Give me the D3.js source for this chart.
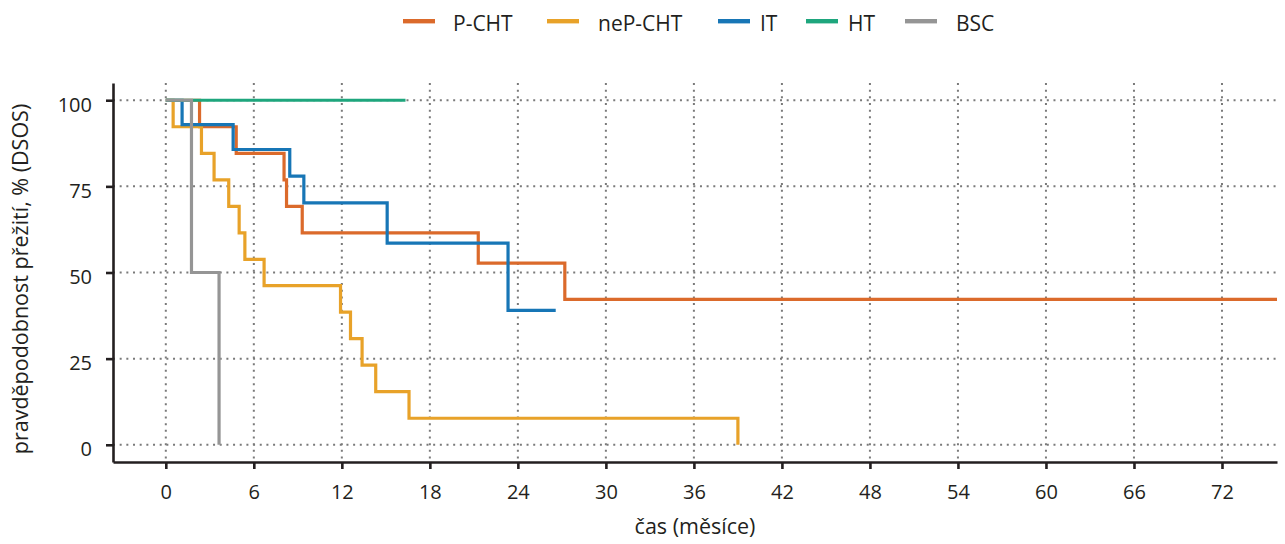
<!DOCTYPE html>
<html>
<head>
<meta charset="utf-8">
<script src="https://cdn.jsdelivr.net/npm/d3@7"></script>
<style>
  html, body { margin: 0; padding: 0; background: #fff; }
</style>
</head>
<body>
<div id="km"></div>
<script>
// Kaplan-Meier curves, DSOS by treatment group
const groups = ["P-CHT", "neP-CHT", "IT", "HT", "BSC"];
const groupColors = ["#db6a2b", "#e8a229", "#1776b6", "#1ea67d", "#959595"];

// time in months, survival in %
const pchtTime = [0, 2.3, 4.8, 8.06, 8.23, 9.3, 21.3, 27.2, 75.75];
const pchtSurv = [100, 92.3, 84.6, 76.9, 69.2, 61.5, 52.7, 42.2, 42.2];

const nepchtTime = [0, 0.5, 2.43, 3.29, 4.29, 5.0, 5.39, 6.7, 11.91, 12.59, 13.38, 14.31, 16.58, 39.0];
const nepchtSurv = [100, 92.3, 84.6, 76.9, 69.2, 61.5, 53.8, 46.2, 38.5, 30.8, 23.1, 15.4, 7.7, 0];

const itTime = [0, 1.11, 4.59, 8.45, 9.41, 15.09, 23.33, 26.58];
const itSurv = [100, 92.9, 85.7, 78.0, 70.2, 58.5, 39.0, 39.0];

const htTime = [0, 16.34];
const htSurv = [100, 100];

const bscTime = [0, 1.75, 3.63];
const bscSurv = [100, 50, 0];

const xTicks = [0, 6, 12, 18, 24, 30, 36, 42, 48, 54, 60, 66, 72];
const yTicks = [0, 25, 50, 75, 100];

(function() {
    const container = d3.select("#km");

    const W = 1285, H = 544;
    const margin = {top: 83, right: 8, bottom: 82, left: 113};
    const width = W - margin.left - margin.right;
    const height = H - margin.top - margin.bottom;
    const ink = "#231f20";
    const font = "'Open Sans', 'Noto Sans', sans-serif";

    const root = container.append("svg")
        .attr("width", W)
        .attr("height", H)
        .style("font-family", font);

    const svg = root.append("g")
        .attr("transform", `translate(${margin.left},${margin.top})`);

    const x = d3.scaleLinear().domain([-3.6, 75.75]).range([0, width]);
    const y = d3.scaleLinear().domain([-5, 105]).range([height, 0]);

    // dotted grid
    const grid = svg.append("g")
        .attr("stroke", "#7a7a7a")
        .attr("stroke-width", 2)
        .attr("stroke-dasharray", "2,4.67");

    grid.selectAll(".hg")
        .data(yTicks)
        .enter()
        .append("line")
        .attr("x1", 0)
        .attr("x2", width)
        .attr("y1", d => y(d))
        .attr("y2", d => y(d));

    grid.selectAll(".vg")
        .data(xTicks)
        .enter()
        .append("line")
        .attr("x1", d => x(d))
        .attr("x2", d => x(d))
        .attr("y1", 0)
        .attr("y2", height);

    // axes
    const xAxis = svg.append("g")
        .attr("transform", `translate(0,${height})`)
        .call(d3.axisBottom(x).tickValues(xTicks).tickSize(7).tickSizeOuter(0).tickPadding(16));

    const yAxis = svg.append("g")
        .call(d3.axisLeft(y).tickValues(yTicks).tickSize(7).tickSizeOuter(0).tickPadding(14));

    [xAxis, yAxis].forEach(ax => {
        ax.select(".domain").attr("stroke", ink).attr("stroke-width", 2.6);
        ax.selectAll(".tick line").attr("stroke", ink).attr("stroke-width", 2.6);
        ax.selectAll(".tick text")
            .attr("fill", ink)
            .style("font-family", font)
            .style("font-size", "20px");
    });
    yAxis.selectAll(".tick text").attr("dy", "0.55em");

    // curves
    const series = [
        {name: "P-CHT", time: pchtTime, surv: pchtSurv},
        {name: "neP-CHT", time: nepchtTime, surv: nepchtSurv},
        {name: "IT", time: itTime, surv: itSurv},
        {name: "HT", time: htTime, surv: htSurv},
        {name: "BSC", time: bscTime, surv: bscSurv}
    ];

    const color = d3.scaleOrdinal().domain(groups).range(groupColors);

    const line = d3.line()
        .x(d => x(d[0]))
        .y(d => y(d[1]))
        .curve(d3.curveStepAfter);

    svg.selectAll(".km")
        .data(series)
        .enter()
        .append("path")
        .attr("class", "km")
        .attr("fill", "none")
        .attr("stroke", d => color(d.name))
        .attr("stroke-width", 3.2)
        .attr("stroke-linejoin", "miter")
        .attr("d", d => line(d.time.map((t, i) => [t, d.surv[i]])));

    // axis titles
    root.append("text")
        .attr("x", margin.left + width / 2)
        .attr("y", 534)
        .attr("text-anchor", "middle")
        .attr("fill", ink)
        .style("font-size", "21.5px")
        .text("čas (měsíce)");

    root.append("text")
        .attr("transform", "translate(28,279) rotate(-90)")
        .attr("text-anchor", "middle")
        .attr("fill", ink)
        .style("font-size", "21.5px")
        .text("pravděpodobnost přežití, % (DSOS)");

    // legend
    const swatchX = [403, 547, 718, 806, 905];
    const labelX = [453, 598, 760, 848, 956];
    const legend = root.append("g");
    groups.forEach((g, i) => {
        legend.append("rect")
            .attr("x", swatchX[i])
            .attr("y", 19)
            .attr("width", 32)
            .attr("height", 4.4)
            .attr("fill", color(g));
        legend.append("text")
            .attr("x", labelX[i])
            .attr("y", 31)
            .attr("fill", ink)
            .style("font-size", "21px")
            .text(g);
    });
})();
</script>
</body>
</html>
